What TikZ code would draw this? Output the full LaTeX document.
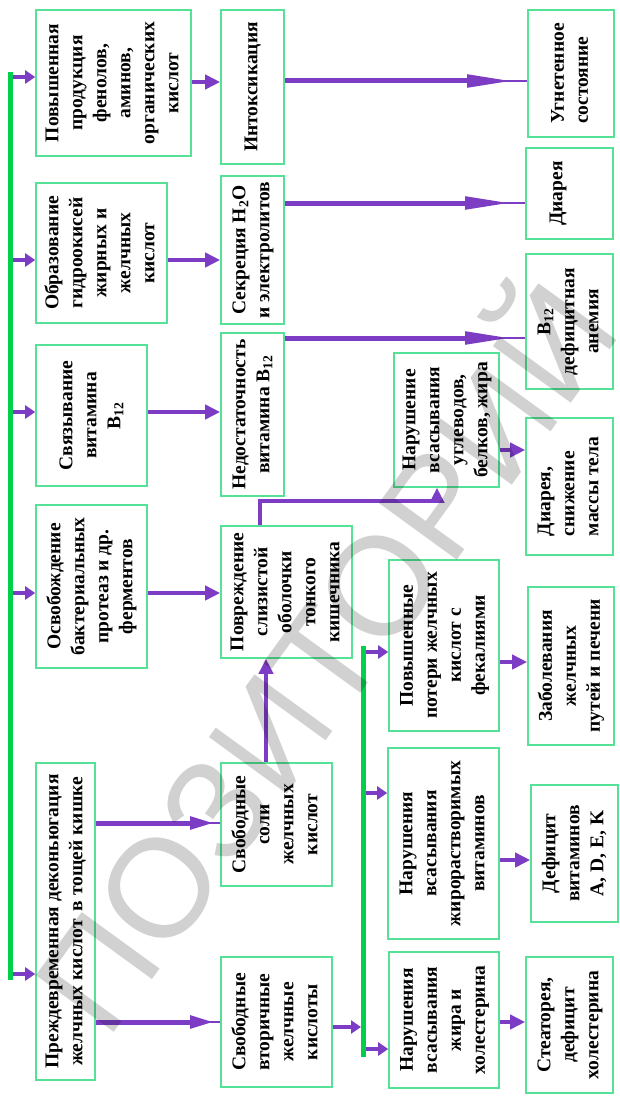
\documentclass[tikz,border=0pt]{standalone}
\usepackage{fontspec}
\setmainfont{Liberation Serif}
\newfontfamily\wmfont{Liberation Sans}
\usetikzlibrary{arrows.meta,calc}
\definecolor{boxgreen}{HTML}{55E296}
\definecolor{bargreen}{HTML}{00D04A}
\definecolor{arrowviolet}{HTML}{7D3CC4}
\newcommand{\vt}[1]{\rotatebox{90}{\begin{tabular}{@{}c@{}}#1\end{tabular}}}
\newcommand{\vtl}[1]{\rotatebox{90}{\begin{tabular}{@{}l@{}}#1\end{tabular}}}
\begin{document}
\begin{tikzpicture}[x=1pt, y=-1pt,
    box/.style={draw=boxgreen, line width=1.6pt, fill=white, inner sep=0pt, font=\fontsize{19.5}{24}\selectfont\bfseries},
    arr/.style={draw=arrowviolet, line width=4.5pt, -{Triangle[length=15pt,width=14pt]}},
    barr/.style={draw=arrowviolet, line width=4.5pt, -{Triangle[length=10pt,width=13pt]}},
    longarr/.style={draw=arrowviolet, line width=5pt, -{Triangle[length=46pt,width=12pt]}, shorten >=14pt},
    shortarr/.style={draw=arrowviolet, line width=5pt, -{Triangle[length=24pt,width=12pt]}, shorten >=6pt},
    tail/.style={draw=arrowviolet, line width=1.2pt},
    bar/.style={draw=bargreen, line width=5pt}]
  \useasboundingbox (0, 0) rectangle (619, 1097);
  \node[box, minimum width=155pt, minimum height=146pt] (A1) at (113.5, 83) {\vt{Повышенная\\продукция\\фенолов,\\аминов,\\органических\\кислот}};
  \node[box, minimum width=131pt, minimum height=140pt] (A2) at (101.5, 253) {\vt{Образование\\гидроокисей\\жирных и\\желчных\\кислот}};
  \node[box, minimum width=111pt, minimum height=141pt] (A3) at (91.5, 415.5) {\vt{Связывание\\витамина\\B\textsubscript{12}}};
  \node[box, minimum width=111pt, minimum height=163pt] (A4) at (91.5, 586.5) {\vt{Освобождение\\бактериальных\\протеаз и др.\\ферментов}};
  \node[box, minimum width=59pt, minimum height=317pt] (A5) at (65.5, 921.5) {\vt{Преждевременная деконьюгация\\желчных кислот\, в тощей кишке}};
  \node[box, minimum width=63pt, minimum height=154pt] (B1) at (252.5, 87) {\vt{Интоксикация}};
  \node[box, minimum width=63pt, minimum height=148pt] (B2) at (252.5, 250) {\vt{Секреция H\textsubscript{2}O\\и электролитов}};
  \node[box, minimum width=63pt, minimum height=163pt] (B3) at (252.5, 414.5) {\vt{Недостаточность\\витамина B\textsubscript{12}}};
  \node[box, minimum width=131pt, minimum height=132pt] (B4) at (286.5, 592) {\vt{Повреждение\\слизистой\\оболочки\\тонкого\\кишечника}};
  \node[box, minimum width=111pt, minimum height=123pt] (B5) at (276.5, 824.5) {\vt{Свободные\\соли\\желчных\\кислот}};
  \node[box, minimum width=111pt, minimum height=130pt] (B6) at (276.5, 1022) {\vt{Свободные\\вторичные\\желчные\\кислоты}};
  \node[box, minimum width=105pt, minimum height=134pt] (C1) at (446.5, 420) {\vt{Нарушение\\всасывания\\углеводов,\\белков, жира}};
  \node[box, minimum width=110pt, minimum height=171pt] (C2) at (444, 645.5) {\vt{Повышенные\\потери желчных\\кислот с\\фекалиями}};
  \node[box, minimum width=111pt, minimum height=191pt] (C3) at (443.5, 843.5) {\vt{Нарушения\\всасывания\\жирорастворимых\\витаминов}};
  \node[box, minimum width=110pt, minimum height=136pt] (C4) at (444, 1020) {\vt{Нарушения\\всасывания\\жира и\\холестерина}};
  \node[box, minimum width=86pt, minimum height=127pt] (D1) at (571, 73.5) {\vtl{Угнетенное\\состояние}};
  \node[box, minimum width=87pt, minimum height=91pt] (D2) at (569.5, 193.5) {\vt{Диарея\\ \\ }};
  \node[box, minimum width=87pt, minimum height=135pt] (D3) at (569.5, 321.5) {\vt{B\textsubscript{12}\\дефицитная\\анемия}};
  \node[box, minimum width=87pt, minimum height=137pt] (D4) at (569.5, 486.5) {\vtl{Диарея,\\снижение\\массы тела}};
  \node[box, minimum width=86pt, minimum height=158pt] (D5) at (571, 666) {\vt{Заболевания\\желчных\\путей и печени}};
  \node[box, minimum width=87pt, minimum height=137pt] (D6) at (574.5, 853.5) {\vt{Дефицит\\витаминов\\A, D, E, K}};
  \node[box, minimum width=87pt, minimum height=136pt] (D7) at (569.5, 1025) {\vt{Стеаторея,\\дефицит\\холестерина}};
  \coordinate (b1top) at (10.5, 72);
  \coordinate (b1bot) at (10.5, 980);
  \coordinate (b2top) at (363, 646);
  \coordinate (b2bot) at (363, 1057);
  \draw[barr] ($(b1top |- A1.west)+(0,-6)$) -- ($(A1.west)+(0,-6)$);
  \draw[barr] ($(b1top |- A2.west)+(0,7)$) -- ($(A2.west)+(0,7)$);
  \draw[barr] ($(b1top |- A3.west)+(0,-3.5)$) -- ($(A3.west)+(0,-3.5)$);
  \draw[barr] ($(b1top |- A4.west)+(0,6.5)$) -- ($(A4.west)+(0,6.5)$);
  \draw[barr] ($(b1top |- A5.west)+(0,52.5)$) -- ($(A5.west)+(0,52.5)$);
  \draw[arr] ($(A1.east)+(0,-1)$) -- ($(A1.east -| B1.west)+(0,-1)$);
  \draw[arr] ($(A2.east)+(0,7)$) -- ($(A2.east -| B2.west)+(0,7)$);
  \draw[arr] ($(A3.east)+(0,-3.5)$) -- ($(A3.east -| B3.west)+(0,-3.5)$);
  \draw[arr] ($(A4.east)+(0,6.5)$) -- ($(A4.east -| B4.west)+(0,6.5)$);
  \draw[tail] ($(B5.west -| A5.east)+(0,-1.5)$) -- ($(B5.west)+(0,-1.5)$);
  \draw[shortarr] ($(B5.west -| A5.east)+(0,-1.5)$) -- ($(B5.west)+(0,-1.5)$);
  \draw[tail] (B6.west -| A5.east) -- (B6.west);
  \draw[shortarr] (B6.west -| A5.east) -- (B6.west);
  \draw[tail] ($(B1.east)+(0,-6)$) -- ($(B1.east -| D1.west)+(0,-6)$);
  \draw[longarr] ($(B1.east)+(0,-6)$) -- ($(B1.east -| D1.west)+(0,-6)$);
  \draw[tail] ($(D2.west -| B2.east)+(0,9.5)$) -- ($(D2.west)+(0,9.5)$);
  \draw[longarr] ($(D2.west -| B2.east)+(0,9.5)$) -- ($(D2.west)+(0,9.5)$);
  \draw[tail] ($(D3.west -| B3.east)+(0,16.5)$) -- ($(D3.west)+(0,16.5)$);
  \draw[longarr] ($(D3.west -| B3.east)+(0,16.5)$) -- ($(D3.west)+(0,16.5)$);
  \draw[arr] ($(B5.north)+(-10.5,0)$) -- ($(B5.north |- B4.south)+(-10.5,0)$);
  \draw[arr] ($(B4.north)+(-26.5,0)$) -- ++(0,-24) -| ($(C1.south)+(-9.5,0)$);
  \draw[barr, shorten >=2pt] ($(B6.east)+(0,5)$) -- ($(B6.east -| b2top)+(0,5)$);
  \draw[barr] ($(b2top |- C2.west)+(0,6.5)$) -- ($(C2.west)+(0,6.5)$);
  \draw[barr] ($(b2top |- C3.west)+(0,-50.5)$) -- ($(C3.west)+(0,-50.5)$);
  \draw[barr] ($(b2top |- C4.west)+(0,29)$) -- ($(C4.west)+(0,29)$);
  \draw[arr] ($(C1.east)+(0,30)$) -- ($(C1.east -| D4.west)+(0,30)$);
  \draw[arr] ($(D5.west -| C2.east)+(0,-4)$) -- ($(D5.west)+(0,-4)$);
  \draw[arr] ($(D6.west -| C3.east)+(0,6.5)$) -- ($(D6.west)+(0,6.5)$);
  \draw[arr] ($(C4.east)+(0,2)$) -- ($(C4.east -| D7.west)+(0,2)$);
  \draw[bar] (b1top) -- (b1bot);
  \draw[bar] (b2top) -- (b2bot);
  \node[rotate=54, text=black, text opacity=0.18, font=\fontsize{140}{140}\selectfont\wmfont] (wm) at (315, 650) {ПОЗИТОРИЙ};
\end{tikzpicture}
\end{document}
